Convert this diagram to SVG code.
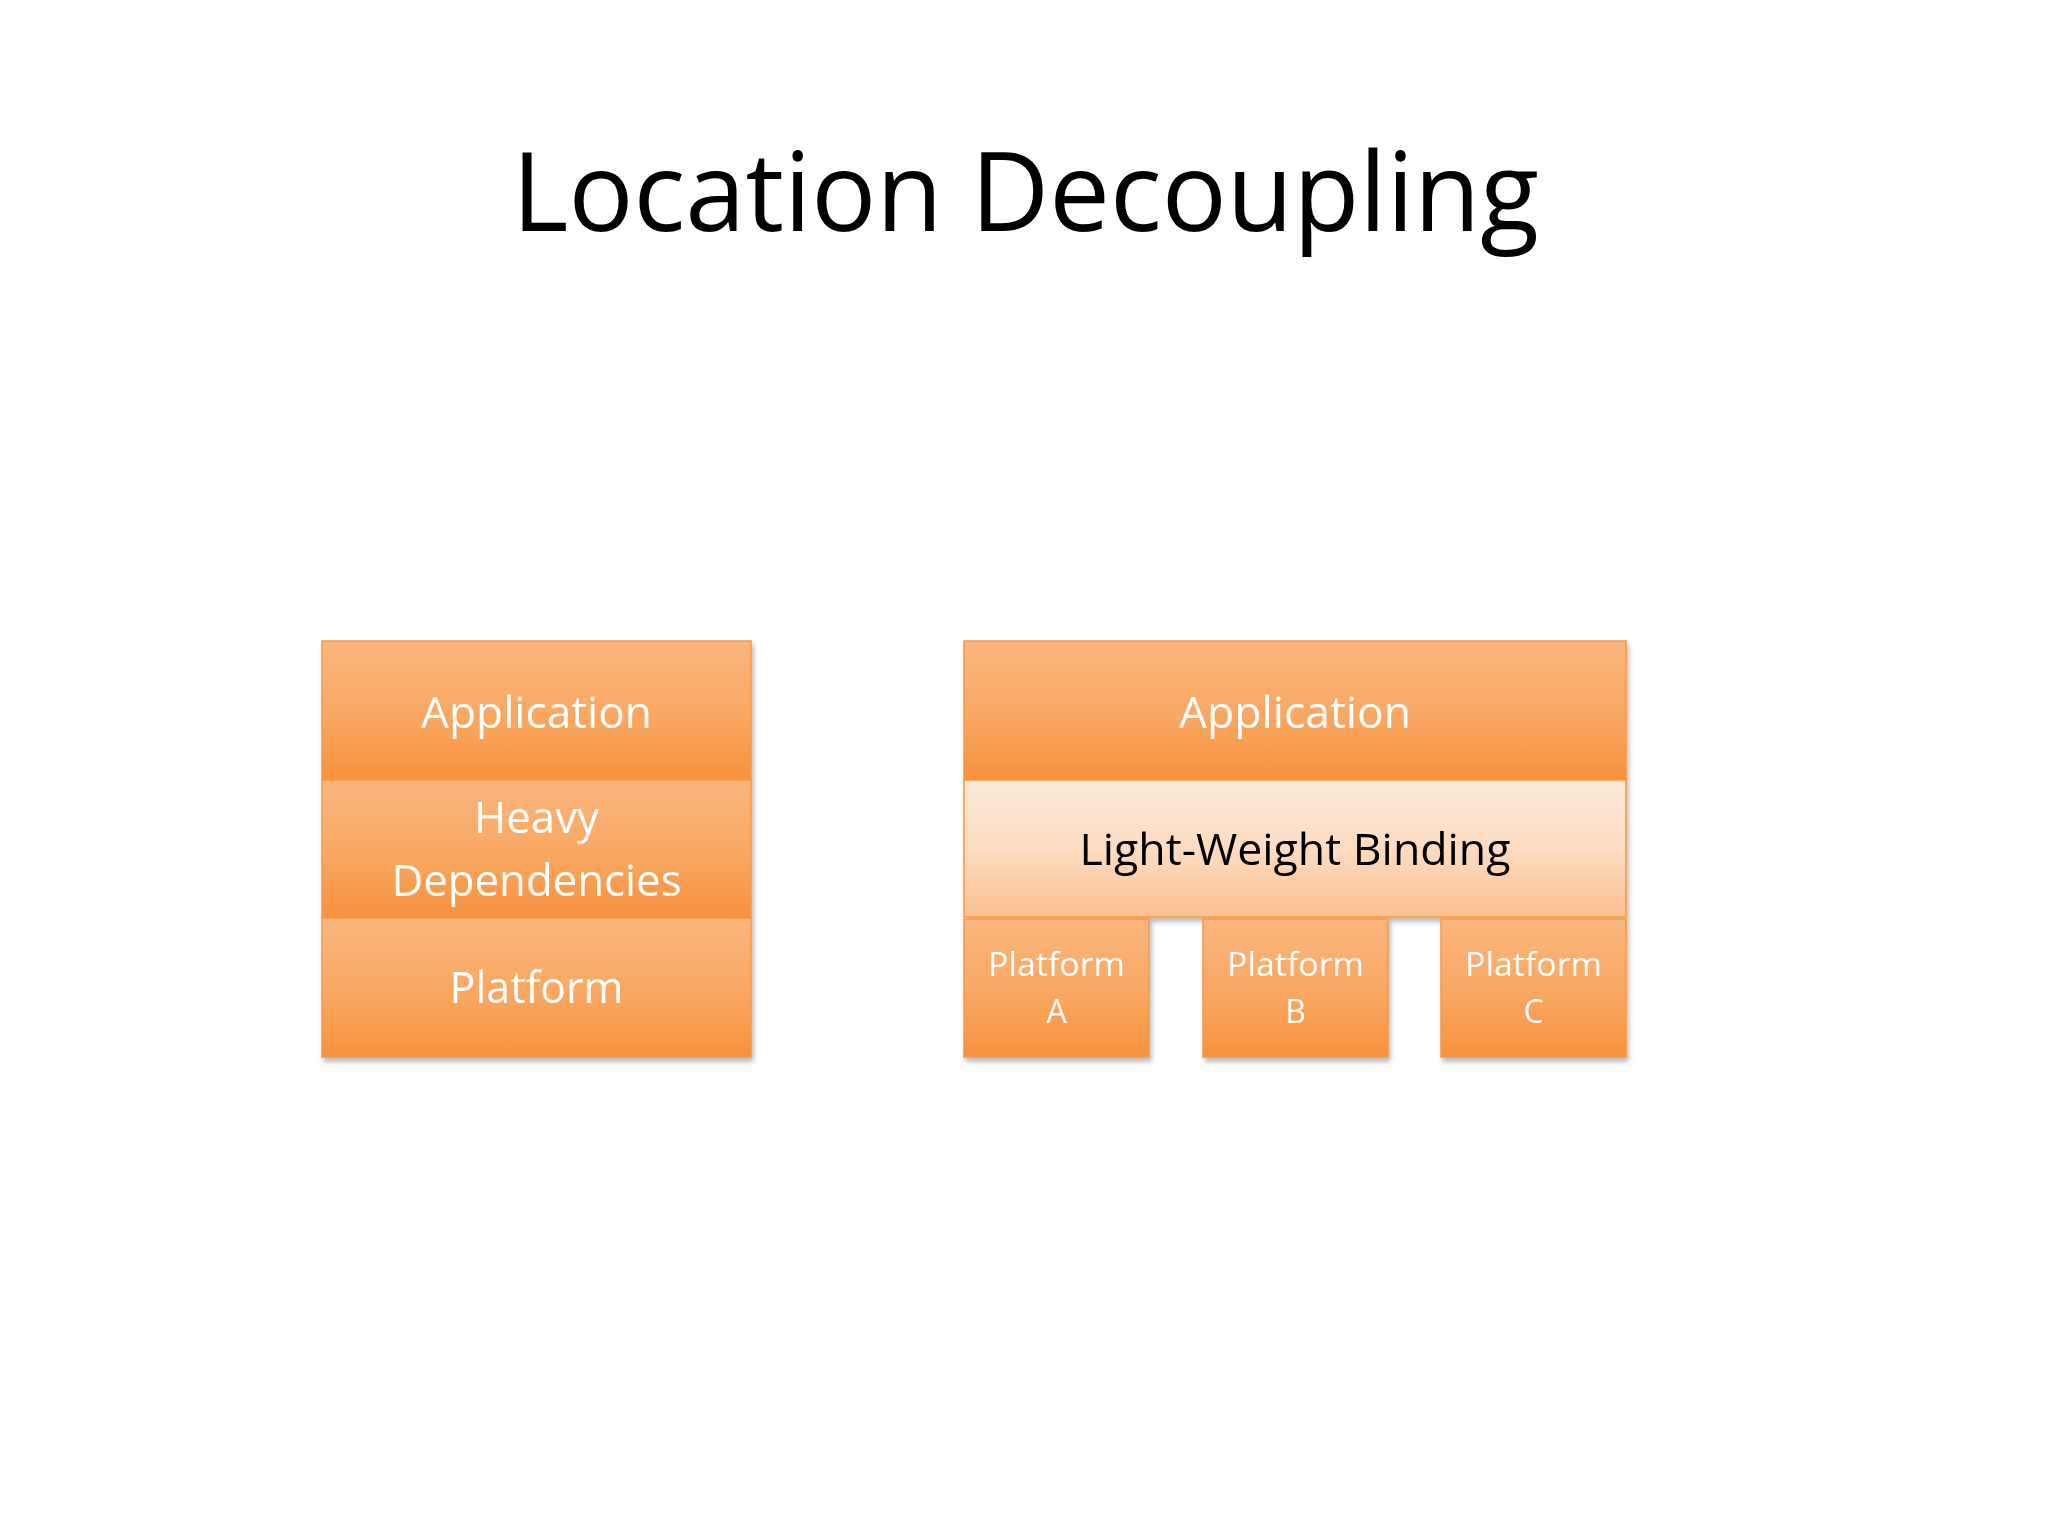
<svg xmlns="http://www.w3.org/2000/svg" width="2048" height="1536" viewBox="0 0 2048 1536">
  <defs>
    <linearGradient id="orange" x1="0" y1="0" x2="0" y2="1">
      <stop offset="0" stop-color="#FAB67D"/>
      <stop offset="0.55" stop-color="#F9A762"/>
      <stop offset="1" stop-color="#F7913D"/>
    </linearGradient>
    <linearGradient id="light" x1="0" y1="0" x2="0" y2="1">
      <stop offset="0" stop-color="#FDE9D9"/>
      <stop offset="0.5" stop-color="#FCDCC2"/>
      <stop offset="1" stop-color="#FBC08F"/>
    </linearGradient>
    <filter id="shadow" x="-10%" y="-10%" width="120%" height="130%">
      <feDropShadow dx="2" dy="4" stdDeviation="2.5" flood-color="#000000" flood-opacity="0.28"/>
    </filter>
  </defs>
  <style>
    .box { fill: url(#orange); stroke: #F79646; stroke-width: 1.5; }
    .lbox { fill: url(#light); stroke: #F79646; stroke-width: 1.5; }
    .t { font-family: "Open Sans", "Noto Sans", sans-serif; text-anchor: middle; }
    .w { fill: #FFFFFF; }
    .k { fill: #000000; }
  </style>
  <rect width="2048" height="1536" fill="#FFFFFF"/>

  <text class="t k" x="1025.5" y="231" font-size="109" textLength="1027" lengthAdjust="spacingAndGlyphs">Location Decoupling</text>

  <g id="left-stack" filter="url(#shadow)">
    <g id="left-application">
      <rect class="box" x="322" y="641" width="429" height="139"/>
      <text class="t w" x="536.5" y="728" font-size="44" textLength="231" lengthAdjust="spacingAndGlyphs">Application</text>
    </g>
    <g id="left-heavy">
      <rect class="box" x="322" y="780" width="429" height="138"/>
      <text class="t w" x="536.5" y="833" font-size="44" textLength="125" lengthAdjust="spacingAndGlyphs">Heavy</text>
      <text class="t w" x="536.5" y="896" font-size="44" textLength="290" lengthAdjust="spacingAndGlyphs">Dependencies</text>
    </g>
    <g id="left-platform">
      <rect class="box" x="322" y="918" width="429" height="139"/>
      <text class="t w" x="536.5" y="1003" font-size="44" textLength="174" lengthAdjust="spacingAndGlyphs">Platform</text>
    </g>
  </g>

  <g id="right-stack" filter="url(#shadow)">
    <g id="right-application">
      <rect class="box" x="964" y="641" width="662" height="139"/>
      <text class="t w" x="1295" y="728" font-size="44" textLength="232" lengthAdjust="spacingAndGlyphs">Application</text>
    </g>
    <g id="binding">
      <rect class="lbox" x="964" y="780" width="662" height="137"/>
      <text class="t k" x="1295" y="865" font-size="44" textLength="431" lengthAdjust="spacingAndGlyphs">Light-Weight Binding</text>
    </g>
    <g id="platform-a">
      <rect class="box" x="964" y="919" width="185" height="138"/>
      <text class="t w" x="1056.5" y="976" font-size="32" textLength="137" lengthAdjust="spacingAndGlyphs">Platform</text>
      <text class="t w" x="1056.5" y="1023" font-size="32">A</text>
    </g>
    <g id="platform-b">
      <rect class="box" x="1203" y="919" width="185" height="138"/>
      <text class="t w" x="1295.5" y="976" font-size="32" textLength="137" lengthAdjust="spacingAndGlyphs">Platform</text>
      <text class="t w" x="1295.5" y="1023" font-size="32">B</text>
    </g>
    <g id="platform-c">
      <rect class="box" x="1441" y="919" width="185" height="138"/>
      <text class="t w" x="1533.5" y="976" font-size="32" textLength="137" lengthAdjust="spacingAndGlyphs">Platform</text>
      <text class="t w" x="1533.5" y="1023" font-size="32">C</text>
    </g>
  </g>

  <g id="connectors"/>
</svg>
